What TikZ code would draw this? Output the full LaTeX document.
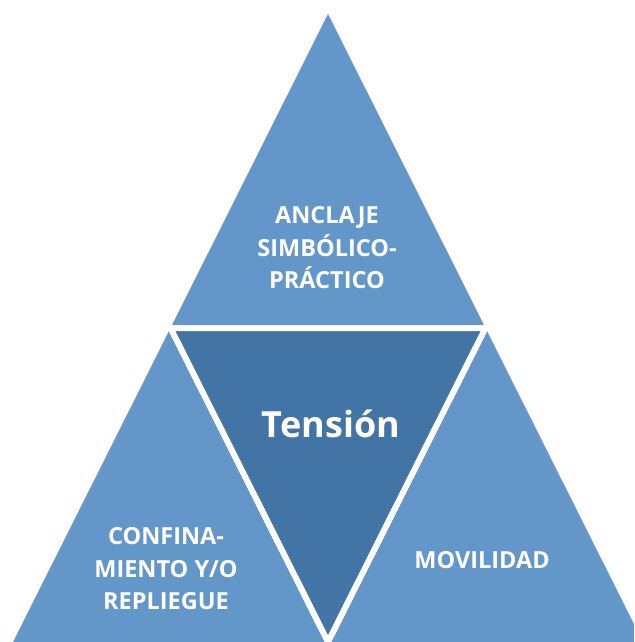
\documentclass[tikz,border=0pt]{standalone}
\usepackage{fontspec}
\setmainfont{Open Sans}
\usepackage{xcolor}
\usepackage{tikz}
\usetikzlibrary{calc}
\definecolor{lightblue}{HTML}{6396C9}
\definecolor{darkblue}{HTML}{4274A5}

\begin{document}
\begin{tikzpicture}[
  x=1pt, y=-1pt,
  tri/.style={fill=lightblue},
  mid/.style={fill=darkblue, draw=white, line width=6pt, line join=miter},
  lbl/.style={align=center, text=white, font=\bfseries\fontsize{23.5}{32.5}\selectfont}
]
  \useasboundingbox (0,0) rectangle (634,642);
  \clip (0,0) rectangle (634,642);
  % corners of the big triangle
  \coordinate (apex) at (328,14);
  \coordinate (bl) at (13,642);
  \coordinate (br) at (643,642);
  \coordinate (ml) at ($(apex)!0.5!(bl)$);
  \coordinate (mr) at ($(apex)!0.5!(br)$);
  \coordinate (mb) at ($(bl)!0.5!(br)$);
  \fill[tri] (apex) -- (bl) -- (br) -- cycle;
  \draw[mid] (ml) -- (mr) -- (mb) -- cycle;
  % labels
  \node[lbl] (anclaje) at (327,248) {ANCLAJE\\SIMBÓLICO-\\PRÁCTICO};
  \node[lbl] (confin) at (166,569) {CONFINA-\\MIENTO Y/O\\REPLIEGUE};
  \node[lbl] (movil) at (482,560) {MOVILIDAD};
  \node[anchor=base, text=white, font=\bfseries\fontsize{36}{40}\selectfont] (tension) at (331,437) {Tensión};
\end{tikzpicture}
\end{document}
